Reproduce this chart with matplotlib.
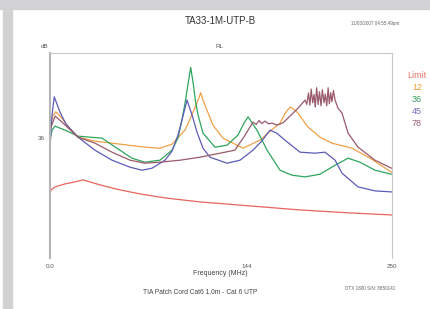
import matplotlib.pyplot as plt
from matplotlib.patches import Rectangle

plt.rcParams['font.family'] = ['Liberation Sans', 'DejaVu Sans']

# Return loss (dB) vs frequency (MHz)
limit_f = [0, 0.7, 3.7, 11, 18.3, 24.2, 36.6, 51.2, 65.9, 84.2, 109.8, 146.4, 183, 219.6, 250]
limit_db = [18.9, 20.4, 21.3, 22.2, 22.8, 23.4, 21.9, 20.4, 19.2, 18.0, 16.8, 15.6, 14.4, 13.5, 12.9]

p12_f = [0, 2, 4.2, 8.8, 14, 20.5, 32.9, 45.4, 69.5, 80.5, 89.3, 98.8, 104, 108.4, 110.3, 112,
         114.2, 119.3, 126.6, 141.3, 153.7, 162, 168.4, 172, 175.7, 178.5, 181.6, 188.9, 197.7,
         206.4, 221.1, 234.3, 250]
p12_db = [39.2, 42.5, 43.8, 41.9, 39.0, 36.2, 35.0, 34.4, 33.2, 32.9, 34.1, 38.3, 43.0, 47.3, 49.5,
          47.3, 45.0, 39.8, 35.9, 32.9, 35.3, 38.3, 40.4, 43.3, 45.2, 44.6, 43.4, 39.2, 36.2,
          34.4, 32.9, 29.9, 25.7]

p36_f = [0, 1.5, 3.7, 11, 20.5, 38.1, 49, 60, 69.5, 80.5, 89.3, 93.7, 96.6, 98.8, 101.8, 103,
         104.7, 106.5, 108.4, 112, 120.8, 129.6, 137.6, 142, 145, 148, 151.5, 158.9, 168.4, 177.2,
         186.7, 197.7, 208.7, 218.2, 226.9, 237.9, 250]
p36_db = [35.3, 38.3, 39.5, 38.3, 36.5, 35.9, 32.9, 29.9, 28.7, 29.3, 32.3, 36.0, 41.3, 46.3, 54.0,
          57.1, 52.7, 47.0, 42.8, 37.4, 33.2, 33.8, 36.8, 40.4, 42.3, 40.4, 38.3, 32.3, 26.3, 24.8,
          24.3, 25.1, 27.8, 29.9, 28.7, 26.3, 25.1]

p45_f = [0, 0.7, 1.5, 3.1, 5.2, 7.3, 11.7, 20.5, 32.9, 45.4, 58.6, 67.4, 74.7, 84.2, 89.3, 93.7,
         96.6, 100.3, 104, 107.6, 112, 117.1, 129.6, 139.1, 148.6, 155, 161.1, 166, 172, 183, 194,
         201.3, 208.7, 213.8, 225.5, 237.9, 250]
p45_db = [32.3, 38.3, 42.8, 48.3, 46.0, 43.7, 40.1, 36.2, 32.3, 29.3, 27.2, 26.3, 26.9, 29.3, 32.0,
          36.8, 41.3, 47.3, 42.8, 37.7, 32.9, 30.2, 28.4, 29.3, 32.3, 35.0, 38.3, 37.4, 35.3, 31.7,
          31.4, 31.7, 29.3, 25.4, 21.3, 20.1, 19.8]

p78_f = [0, 3.7, 8.8, 20.5, 32.9, 45.4, 58.6, 69.5, 80.5, 95.2, 109.8, 124.5, 135.4, 142.8, 148.6,
         151, 153, 155, 157.4, 160, 162.5, 166.2, 170.6, 175.7, 181.6, 186.7,
         188, 189.2, 190.3, 191.2, 192.3, 193.3, 194.2, 195.2, 196.3, 197.3, 198.4, 199.4, 200.6,
         201.5, 202.6, 203.6, 204.5, 205.5, 206.4, 207.5, 208.7, 210.8, 213.8, 218.2, 225.5,
         237.9, 250]
p78_db = [38.3, 42.5, 40.7, 36.2, 34.4, 31.7, 29.3, 28.4, 28.7, 29.3, 30.2, 31.4, 32.3, 36.8, 40.7,
          40.0, 41.2, 40.3, 41.0, 40.2, 40.4, 39.8, 40.5, 42.5, 44.9, 47.3,
          46.0, 49.4, 45.8, 50.6, 46.5, 49.0, 45.2, 51.0, 46.0, 49.8, 45.6, 50.4, 46.5,
          49.1, 45.6, 51.0, 46.2, 49.5, 46.8, 50.2, 47.3, 44.9, 43.4, 37.4, 33.2,
          29.3, 26.9]

series = [("Limit", limit_f, limit_db, "#e8645c", "#e27468"),
          ("12", p12_f, p12_db, "#f0a048", "#eea234"),
          ("36", p36_f, p36_db, "#2ea55e", "#3a9c5c"),
          ("45", p45_f, p45_db, "#5c5cb8", "#6e6ec2"),
          ("78", p78_f, p78_db, "#9a5a6a", "#9c6472")]

fig = plt.figure(figsize=(4.3, 3.09), dpi=100)
fig.patches.append(Rectangle((0, 1 - 9 / 309), 1, 9 / 309, transform=fig.transFigure,
                             color="#d2d2d4", zorder=0))
fig.patches.append(Rectangle((3 / 430, 0), 9 / 430, 1, transform=fig.transFigure,
                             color="#d2d2d4", zorder=0))

ax = fig.add_axes([50 / 430, 1 - 258 / 309, 341.5 / 430, 205.3 / 309])
for name, f, db, c, tc in series:
    ax.plot(f, db, color=c, lw=0.9)

ax.set_xlim(0, 250)
ax.set_ylim(0, 61.5)
ax.set_xticks([0, 144, 250])
ax.set_xticklabels(["0.0", "144", "250"], fontsize=4.5, color="#555555")
ax.set_yticks([36])
ax.set_yticklabels(["36"], fontsize=4.5, color="#555555")
ax.tick_params(length=0, pad=4)
ax.spines["left"].set_color("#b4b4b4")
ax.spines["left"].set_linewidth(1.5)
for s in ["top", "right"]:
    ax.spines[s].set_color("#c8c8c8")
    ax.spines[s].set_linewidth(0.8)
ax.spines["bottom"].set_visible(False)
ax.set_xlabel("Frequency (MHz)", fontsize=5, color="#444444", labelpad=1)

fig.text(220 / 430, 1 - 21 / 309, "TA33-1M-UTP-B", ha="center", va="center", fontsize=7, color="#333333")
fig.text(375 / 430, 1 - 24 / 309, "11/03/2007 04:55:49pm", ha="center", va="center", fontsize=3.3, color="#666666")
fig.text(45 / 430, 1 - 47 / 309, "dB", ha="center", va="center", fontsize=4.5, color="#555555")
fig.text(220 / 430, 1 - 47 / 309, "RL", ha="center", va="center", fontsize=4.5, color="#555555")
fig.text(200 / 430, 1 - 292 / 309, "TIA Patch Cord Cat6 1.0m - Cat 6 UTP", ha="center", va="center",
         fontsize=4.8, color="#444444")
fig.text(370 / 430, 1 - 288 / 309, "DTX 1800 S/N: 8850141", ha="center", va="center", fontsize=3.3, color="#666666")

for i, (name, f, db, c, tc) in enumerate(series):
    fig.text(417 / 430, 1 - (76 + i * 11.8) / 309, name, ha="center", va="center", fontsize=6.5, color=tc)

fig.savefig("out.png", dpi=100, facecolor="white")
